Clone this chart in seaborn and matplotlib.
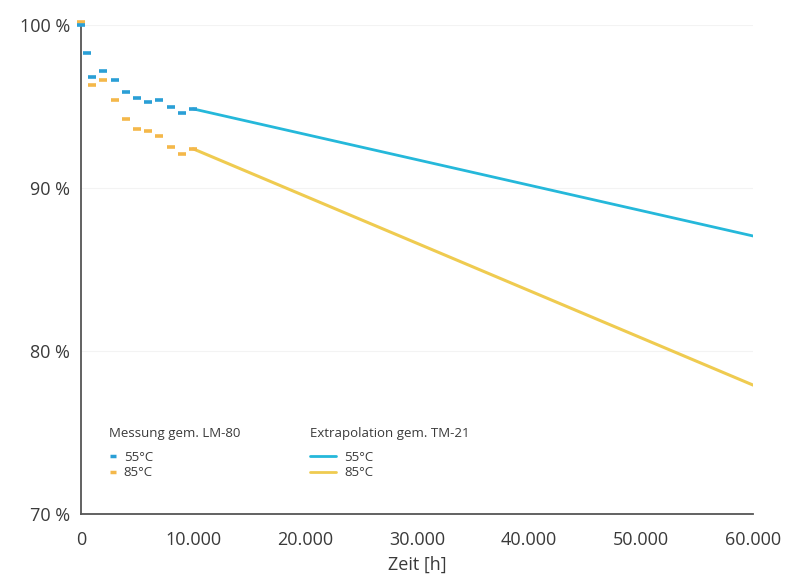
import matplotlib
matplotlib.use("Agg")
import matplotlib.pyplot as plt
from matplotlib.lines import Line2D
import seaborn as sns
import pandas as pd

# --- data ---
meas_time = [0, 500, 1000, 2000, 3000, 4000, 5000, 6000, 7000, 8000, 9000, 10000]
meas_55 = [100.0, 98.3, 96.8, 97.15, 96.6, 95.9, 95.5, 95.3, 95.4, 94.95, 94.6, 94.85]
meas_time_85 = [0, 1000, 2000, 3000, 4000, 5000, 6000, 7000, 8000, 9000, 10000]
meas_85 = [100.2, 96.3, 96.6, 95.4, 94.25, 93.6, 93.5, 93.2, 92.5, 92.1, 92.4]

extra_time = [10000, 35000, 60000]
extra_55 = [94.85, 90.95, 87.05]
extra_85 = [92.4, 85.15, 77.9]

x_ticks = [0, 10000, 20000, 30000, 40000, 50000, 60000]
x_ticklabels = ["0", "10.000", "20.000", "30.000", "40.000", "50.000", "60.000"]
y_ticks = [70, 80, 90, 100]
y_ticklabels = ["70 %", "80 %", "90 %", "100 %"]

c_blue_meas = "#2a9fd6"
c_orange_meas = "#f4b84a"
c_blue_line = "#25b8da"
c_yellow_line = "#efcb50"
txt = "#3a3a3a"

sns.set_theme(style="white")
plt.rcParams["font.family"] = ["Open Sans", "DejaVu Sans"]

fig = plt.figure(figsize=(7.87, 5.80), dpi=100)
ax = fig.add_axes([0.103, 0.114, 0.854, 0.843])

df_e55 = pd.DataFrame({"t": extra_time, "v": extra_55})
df_e85 = pd.DataFrame({"t": extra_time, "v": extra_85})
df_m55 = pd.DataFrame({"t": meas_time, "v": meas_55})
df_m85 = pd.DataFrame({"t": meas_time_85, "v": meas_85})

sns.lineplot(data=df_e85, x="t", y="v", ax=ax, color=c_yellow_line, lw=2.2, zorder=2)
sns.lineplot(data=df_e55, x="t", y="v", ax=ax, color=c_blue_line, lw=2.0, zorder=2)
sns.lineplot(data=df_m85, x="t", y="v", ax=ax, color=c_orange_meas, linestyle="",
             marker="_", markersize=6, markeredgewidth=2.6,
             markeredgecolor=c_orange_meas, zorder=3, clip_on=False)
sns.lineplot(data=df_m55, x="t", y="v", ax=ax, color=c_blue_meas, linestyle="",
             marker="_", markersize=6, markeredgewidth=2.6,
             markeredgecolor=c_blue_meas, zorder=4, clip_on=False)

ax.set_xlim(0, 60000)
ax.set_ylim(70, 100)
ax.set_xticks(x_ticks)
ax.set_xticklabels(x_ticklabels, fontsize=13, color=txt)
ax.set_yticks(y_ticks)
ax.set_yticklabels(y_ticklabels, fontsize=13, color=txt)
ax.set_xlabel("Zeit [h]", fontsize=13, color=txt, labelpad=5)
ax.set_ylabel("")

for s in ["top", "right"]:
    ax.spines[s].set_visible(False)
for s in ["left", "bottom"]:
    ax.spines[s].set_color("#555555")
    ax.spines[s].set_linewidth(1.3)
    ax.spines[s].set_zorder(1)
ax.tick_params(axis="x", direction="in", length=4, width=1, color="#555555", pad=12)
ax.tick_params(axis="y", length=0, pad=8)

ax.yaxis.grid(True, color="#f3f3f3", lw=0.8)
ax.set_axisbelow(True)

# legend titles as text, entries as legends
fig.text(109 / 787, 1 - 434 / 580, "Messung gem. LM-80", fontsize=9.5, color=txt,
         ha="left", va="center")
fig.text(310 / 787, 1 - 434 / 580, "Extrapolation gem. TM-21", fontsize=9.5, color=txt,
         ha="left", va="center")

h1 = [Line2D([], [], color=c_blue_meas, linestyle="", marker="_", markersize=5, markeredgewidth=2.5),
      Line2D([], [], color=c_orange_meas, linestyle="", marker="_", markersize=5, markeredgewidth=2.5)]
h2 = [Line2D([], [], color=c_blue_line, lw=2),
      Line2D([], [], color=c_yellow_line, lw=2)]
leg1 = fig.legend(h1, ["55°C", "85°C"], loc="upper left",
                  bbox_to_anchor=(102 / 787, 1 - 444 / 580), frameon=False, fontsize=9.5,
                  handlelength=0.7, handletextpad=0.45, labelspacing=0.2, borderpad=0)
leg2 = fig.legend(h2, ["55°C", "85°C"], loc="upper left",
                  bbox_to_anchor=(303 / 787, 1 - 444 / 580), frameon=False, fontsize=9.5,
                  handlelength=2.0, handletextpad=0.6, labelspacing=0.2, borderpad=0)
for lg in (leg1, leg2):
    for t in lg.get_texts():
        t.set_color(txt)

fig.savefig("out.png", dpi=100, facecolor="white")
